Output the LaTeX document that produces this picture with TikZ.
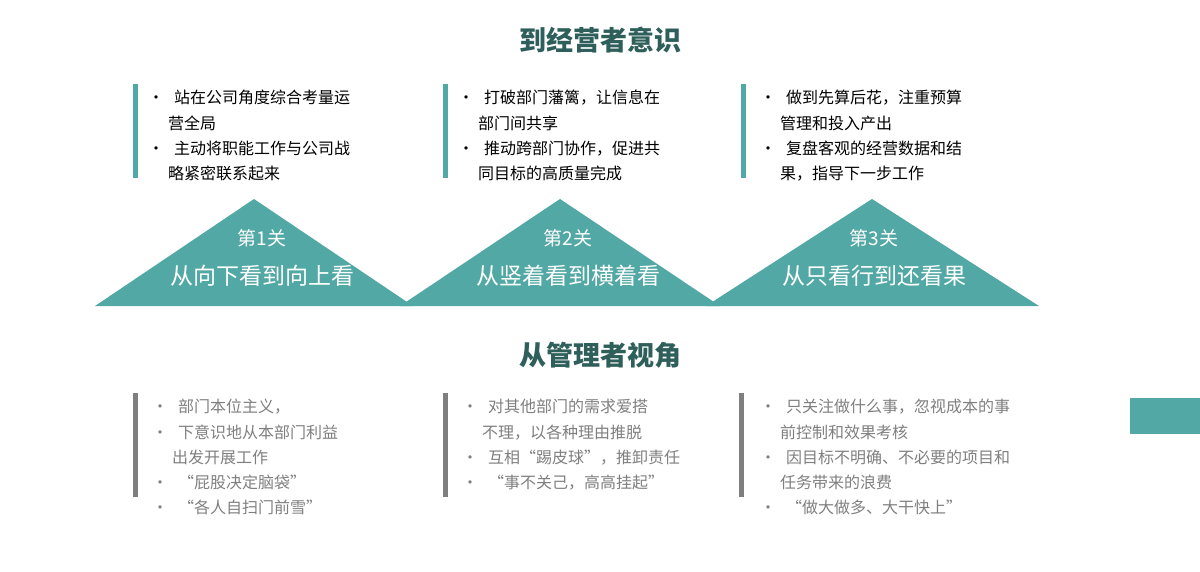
\documentclass[tikz,border=0pt]{standalone}
\usepackage{fontspec}
\setmainfont{Noto Sans CJK SC}
\definecolor{teal1}{HTML}{52A8A4}
\definecolor{dteal}{HTML}{2F5F5B}
\definecolor{gtxt}{HTML}{7F7F7F}
\begin{document}
\begin{tikzpicture}[x=1pt,y=-1pt,
 title/.style={font=\fontsize{27}{30}\selectfont\bfseries, text=dteal},
 blk/.style={anchor=north west, align=left, font=\fontsize{16}{25.3}\selectfont, inner sep=0pt},
 tri/.style={fill=teal1, draw=none},
 tl/.style={text=white, font=\fontsize{19}{22}\selectfont},
 tb/.style={text=white, font=\fontsize{23}{26}\selectfont}]
\useasboundingbox (0,0) rectangle (1200,572);
\node[title] (t1) at (600,40) {到经营者意识};
\node[title] (t2) at (600,355) {从管理者视角};
% top columns
\foreach \x/\n in {133/a,443/b,741/c}{\fill[teal1] (\x,84) rectangle (\x+5,178);}
\node[blk] (ta) at (148,90) {•\hspace{10pt}站在公司角度综合考量运\\\hspace{20pt}营全局\\•\hspace{10pt}主动将职能工作与公司战\\\hspace{20pt}略紧密联系起来};
\node[blk] (tb) at (458,90) {•\hspace{10pt}打破部门藩篱，让信息在\\\hspace{20pt}部门间共享\\•\hspace{10pt}推动跨部门协作，促进共\\\hspace{20pt}同目标的高质量完成};
\node[blk] (tc) at (760,90) {•\hspace{10pt}做到先算后花，注重预算\\\hspace{20pt}管理和投入产出\\•\hspace{10pt}复盘客观的经营数据和结\\\hspace{20pt}果，指导下一步工作};
% triangles
\fill[tri] (95,306) -- (254,199) -- (413,306) -- cycle;
\fill[tri] (400,306) -- (560,199) -- (720,306) -- cycle;
\fill[tri] (706,306) -- (872,199) -- (1039,306) -- cycle;
\node[tl] (g1) at (262,238) {第1关};
\node[tb] (h1) at (262,276) {从向下看到向上看};
\node[tl] (g2) at (568,238) {第2关};
\node[tb] (h2) at (568,276) {从竖着看到横着看};
\node[tl] (g3) at (874,238) {第3关};
\node[tb] (h3) at (874,276) {从只看行到还看果};
% bottom columns
\foreach \x in {133,443,739}{\fill[gtxt] (\x,393) rectangle (\x+5,497);}
\node[blk,text=gtxt] (ba) at (152,399) {•\hspace{10pt}部门本位主义，\\•\hspace{10pt}下意识地从本部门利益\\\hspace{20pt}出发开展工作\\•\hspace{10pt}“屁股决定脑袋”\\•\hspace{10pt}“各人自扫门前雪”};
\node[blk,text=gtxt] (bb) at (462,399) {•\hspace{10pt}对其他部门的需求爱搭\\\hspace{20pt}不理，以各种理由推脱\\•\hspace{10pt}互相“踢皮球”，推卸责任\\•\hspace{10pt}“事不关己，高高挂起”};
\node[blk,text=gtxt] (bc) at (760,399) {•\hspace{10pt}只关注做什么事，忽视成本的事\\\hspace{20pt}前控制和效果考核\\•\hspace{10pt}因目标不明确、不必要的项目和\\\hspace{20pt}任务带来的浪费\\•\hspace{10pt}“做大做多、大干快上”};
\fill[teal1] (1130,398) rectangle (1200,434);
\end{tikzpicture}
\end{document}
